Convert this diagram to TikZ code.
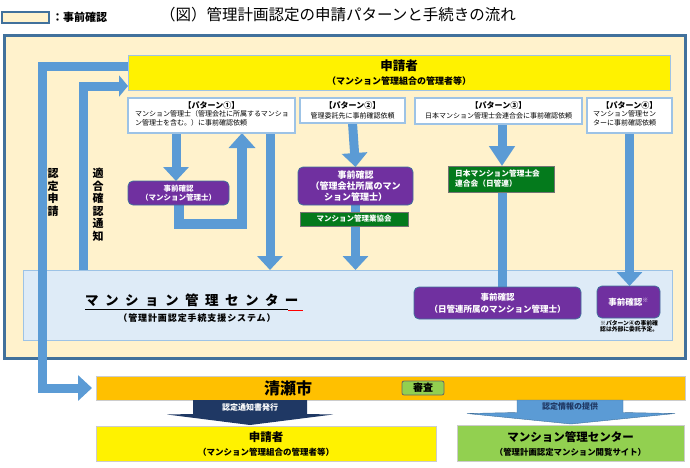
\documentclass[tikz,border=0pt]{standalone}
\usepackage{fontspec}
\setmainfont{Noto Sans CJK JP}
\usetikzlibrary{arrows.meta,calc}
\pgfdeclarelayer{back}
\pgfdeclarelayer{mid}
\pgfsetlayers{back,mid,main}
\definecolor{frameblue}{HTML}{41719C}
\definecolor{cream}{HTML}{FFF2CC}
\definecolor{arrblue}{HTML}{5B9BD5}
\definecolor{lightbd}{HTML}{9DC3E6}
\definecolor{lbfill}{HTML}{DEEBF7}
\definecolor{purp}{HTML}{7030A0}
\definecolor{dgreen}{HTML}{047A1C}
\definecolor{lgreen}{HTML}{92D050}
\definecolor{orng}{HTML}{FFC000}
\definecolor{navy}{HTML}{1F3864}
\newcommand\fsz[2]{\fontsize{#1}{#2}\selectfont}
\begin{document}
\begin{tikzpicture}[x=1pt,y=-1pt,
  box/.style={anchor=north west, inner sep=0pt, outer sep=0pt},
  patbox/.style={box, draw=lightbd, line width=1.2pt, fill=white},
  purpbox/.style={box, draw=frameblue, line width=0.8pt, fill=purp, rounded corners=5pt, text=white, align=center},
  grnbox/.style={box, draw=black!55, line width=0.6pt, fill=dgreen, text=white},
  flow/.style={draw=arrblue, line width=9pt},
  flowhead/.style={flow, -{Triangle[width=25pt,length=14pt]}},
  lbl/.style={inner sep=0pt, align=center},
]
\useasboundingbox (0,0) rectangle (690,467);

% legend and title
\node[box, draw=frameblue, line width=2.5pt, fill=cream, minimum width=47pt, minimum height=11pt] (legend) at (2,12) {};
\node[lbl, anchor=west, font=\fsz{11}{13}\bfseries] (legtext) at (52,17.5) {：事前確認};
\node[lbl, font=\fsz{15.5}{18}] (title) at (338,14.5) {（図）管理計画認定の申請パターンと手続きの流れ};

\begin{pgfonlayer}{back}
% outer frame
\node[box, draw=frameblue, line width=3pt, fill=cream, minimum width=681pt, minimum height=323pt] (frame) at (4,35) {};
% mansion centre system
\node[box, draw=lightbd, line width=1pt, fill=lbfill, minimum width=649pt, minimum height=70pt] (center) at (23,270) {};
\end{pgfonlayer}
\node[lbl, anchor=west, font=\fsz{13.5}{15}\bfseries\addfontfeature{LetterSpace=48}] (centertxt) at (85,300) {マンション管理センター};
\draw[line width=0.8pt] (85,309.5) -- (288,309.5);
\draw[red, line width=0.6pt] (288,310) -- (303,310);
\node[lbl, font=\fsz{9}{11}\bfseries\addfontfeature{LetterSpace=10}] (centersub) at (197,318.5) {（管理計画認定手続支援システム）};

% coordinates for connectors
\coordinate (c1) at (42,66);
\coordinate (c2) at (83,86);
\coordinate (u1) at (242,224);

% applicant box
\node[box, draw=lightbd, line width=1pt, fill=yellow, minimum width=542pt, minimum height=35pt] (req) at (128,55) {};
\node[lbl, font=\fsz{12.5}{14}\bfseries] (reqt) at (399,66) {申請者};
\node[lbl, font=\fsz{9}{11}\bfseries] (reqs) at (399,81) {（マンション管理組合の管理者等）};

% pattern boxes
\node[patbox, minimum width=167pt, minimum height=35pt] (p1) at (128,98) {};
\node[patbox, minimum width=105pt, minimum height=25pt] (p2) at (300,98) {};
\node[patbox, minimum width=167pt, minimum height=26pt] (p3) at (415,98) {};
\node[patbox, minimum width=85pt, minimum height=35pt] (p4) at (587,98) {};

\node[lbl, font=\fsz{8}{9}\bfseries] (p1t) at (211.5,105) {【パターン①】};
\node[lbl, align=left, anchor=north west, font=\fsz{7}{9.5}] (p1b) at (135,110) {マンション管理士（管理会社に所属するマンショ\\ン管理士を含む。）に事前確認依頼};
\node[lbl, font=\fsz{8}{9}\bfseries] (p2t) at (352.5,105) {【パターン②】};
\node[lbl, font=\fsz{7}{9}] (p2b) at (352.5,115.5) {管理委託先に事前確認依頼};
\node[lbl, font=\fsz{8}{9}\bfseries] (p3t) at (498.5,105) {【パターン③】};
\node[lbl, font=\fsz{7}{9}] (p3b) at (498.5,115.5) {日本マンション管理士会連合会に事前確認依頼};
\node[lbl, font=\fsz{8}{9}\bfseries] (p4t) at (629.5,105) {【パターン④】};
\node[lbl, align=left, anchor=north west, font=\fsz{7}{9.5}] (p4b) at (593,110) {マンション管理セン\\ターに事前確認依頼};

% purple and green boxes
\node[purpbox, minimum width=101pt, minimum height=24pt, font=\fsz{7.5}{9.5}\bfseries] (pu1) at (128,181) {事前確認\\（マンション管理士）};
\node[purpbox, minimum width=115pt, minimum height=38pt, font=\fsz{9}{10.7}\bfseries] (pu2) at (298,167) {事前確認\\（管理会社所属のマン\\ション管理士）};
\node[grnbox, minimum width=108pt, minimum height=14pt, font=\fsz{7.5}{9}\bfseries] (g2) at (300,212) {マンション管理業協会};
\node[grnbox, minimum width=106pt, minimum height=26pt] (g3) at (448,166) {};
\node[lbl, align=left, anchor=west, text=white, font=\fsz{7.7}{10}\bfseries] (g3t) at (455,178.5) {日本マンション管理士会\\連合会（日管連）};
\node[purpbox, minimum width=167pt, minimum height=32pt, font=\fsz{8.5}{12}\bfseries] (pu3) at (414,287) {事前確認\\（日管連所属のマンション管理士）};
\node[purpbox, minimum width=63pt, minimum height=32pt, font=\fsz{8.5}{10}\bfseries] (pu4) at (597,286) {事前確認\textsuperscript{※}};
\node[lbl, align=left, anchor=north west, font=\fsz{5.8}{6.2}\bfseries] (note) at (600,320.5) {※パターン④の事前確\\認は外部に委託予定。};

% vertical labels
\node[lbl, font=\fsz{11}{12.7}\bfseries] (v1) at (53,192.5) {認\\定\\申\\請};
\node[lbl, font=\fsz{11}{12.5}\bfseries] (v2) at (98,205) {適\\合\\確\\認\\通\\知};

% bottom part
\node[box, draw=black!20, line width=0.6pt, fill=orng, minimum width=589pt, minimum height=24pt] (kiyose) at (96,376) {};
\node[lbl, font=\fsz{16}{18}\bfseries] (kiyoset) at (288,388) {清瀬市};
\node[box, draw=black!60, line width=0.8pt, fill=lgreen, rounded corners=2pt, minimum width=42pt, minimum height=14pt, font=\fsz{10}{11}\bfseries, align=center] (shinsa) at (402,381) {審査};

\node[box, draw=black!20, line width=0.6pt, fill=yellow, minimum width=340pt, minimum height=35pt] (req2) at (96,426) {};
\node[lbl, font=\fsz{11.5}{13}\bfseries] (req2t) at (266,437) {申請者};
\node[lbl, font=\fsz{8.5}{10}\bfseries] (req2s) at (266,452) {（マンション管理組合の管理者等）};

\node[box, draw=black!20, line width=0.6pt, fill=lgreen, minimum width=227pt, minimum height=36pt] (mc2) at (457,425) {};
\node[lbl, font=\fsz{11.5}{13}\bfseries] (mc2t) at (570.5,437) {マンション管理センター};
\node[lbl, font=\fsz{8.4}{10}\bfseries] (mc2s) at (570.5,452) {（管理計画認定マンション閲覧サイト）};

\fill[navy] (193,400) -- (307,400) -- (307,414) -- (333,414.5) -- (250,425) -- (167,414.5) -- (193,414) -- cycle;
\node[lbl, text=white, font=\fsz{8}{9}\bfseries] (notice) at (250,407.5) {認定通知書発行};
\draw[fill=arrblue, draw=frameblue, line width=0.4pt] (517,400) -- (623,400) -- (623,412.5) -- (675,413.5) -- (571,424) -- (467,413.5) -- (517,412.5) -- cycle;
\node[lbl, text=navy, font=\fsz{8}{9}\bfseries] (info) at (570,406.5) {認定情報の提供};

% connectors (drawn below boxes)
\begin{pgfonlayer}{mid}
\draw[flowhead] (req.west |- c1) -- (c1) -- (c1 |- kiyose.west) -- ([xshift=-4pt]kiyose.west);
\draw[flow, -{Triangle[width=21pt,length=9pt]}] (c2 |- center.north) -- (c2) -- (req.west |- c2);
\coordinate (a1s) at ([xshift=48pt]p1.south west);
\coordinate (a1e) at ([xshift=48pt]pu1.north west);
\draw[flowhead] (a1s) -- (a1e);
\coordinate (a2s) at ([xshift=51pt]pu1.south west);
\draw[flow, line width=10pt, -{Triangle[width=26pt,length=15pt]}] (a2s) |- (u1) -- (u1 |- p1.south);
\coordinate (a3s) at ([xshift=142pt]p1.south west);
\draw[flowhead] (a3s) -- (a3s |- center.north);
\draw[flowhead] (p2.south) -- (pu2.north);
\draw[flowhead] (pu2.south) -- (pu2.south |- center.north);
\coordinate (a6s) at ([xshift=87pt]p3.south west);
\draw[flow, -{Triangle[width=25pt,length=20pt]}] (a6s) -- (a6s |- g3.north);
\draw[flow] (a6s |- g3.south) -- (a6s |- pu3.north);
\draw[flowhead] (p4.south) -- (p4.south |- pu4.north);
\end{pgfonlayer}
\end{tikzpicture}
\end{document}
